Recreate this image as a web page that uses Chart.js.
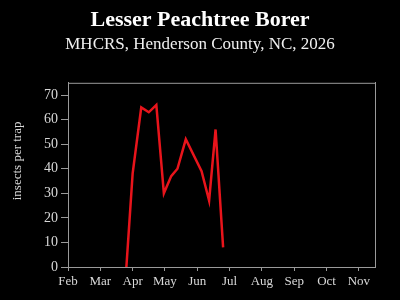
<!DOCTYPE html>
<html lang="en">
<head>
    <meta charset="UTF-8">
    <title>Lesser Peachtree Borer</title>
    <script src="https://cdn.jsdelivr.net/npm/chart.js"></script>
    <style>
        html, body { margin: 0; padding: 0; background: #000; }
        #wrap { width: 400px; height: 300px; }
    </style>
</head>
<body>
<div id="wrap"><canvas id="borerChart" width="400" height="300"></canvas></div>
<script>
    // trap dates (MM-DD) and counts
    const trapDates = ["03-26", "04-01", "04-09", "04-16", "04-23", "04-30", "05-07", "05-13", "05-21", "06-05", "06-12", "06-18", "06-25"];
    const trapCounts = [0, 38, 65, 63, 66, 30, 37, 40, 52, 39, 27, 56, 8];
    const monthLabels = ["Feb", "Mar", "Apr", "May", "Jun", "Jul", "Aug", "Sep", "Oct", "Nov"];
    const yTicks = [0, 10, 20, 30, 40, 50, 60, 70];
    const yTitle = "insects per trap";

    const daysIn = [31, 28, 31, 30, 31, 30, 31, 31, 30, 31, 30, 31];
    // month position on axis: Feb 1 = 0, Mar 1 = 1, ...
    function monthPos(s) {
        const m = parseInt(s.slice(0, 2), 10);
        const d = parseInt(s.slice(3), 10);
        return (m - 2) + (d - 1) / daysIn[m - 1];
    }
    const points = trapDates.map((d, i) => ({ x: monthPos(d), y: trapCounts[i] }));

    const labelColor = "#d8d8d8";
    const axisColor = "#9a9a9a";
    const serif = "'Liberation Serif', 'DejaVu Serif', serif";

    // top edge of the box + y axis label (sits a bit above centre in the original)
    const frame = {
        id: "frame",
        afterDraw(chart) {
            const a = chart.chartArea, ctx = chart.ctx;
            ctx.save();
            ctx.strokeStyle = axisColor;
            ctx.lineWidth = 1;
            ctx.beginPath();
            ctx.moveTo(a.left, a.top + 0.5);
            ctx.lineTo(a.right, a.top + 0.5);
            ctx.stroke();
            ctx.translate(18, (a.top + a.bottom) / 2 - 14);
            ctx.rotate(-Math.PI / 2);
            ctx.fillStyle = labelColor;
            ctx.font = "13px " + serif;
            ctx.textAlign = "center";
            ctx.textBaseline = "middle";
            ctx.fillText(yTitle, 0, 0);
            ctx.restore();
        }
    };

    new Chart(document.getElementById("borerChart").getContext("2d"), {
        type: "line",
        data: {
            datasets: [{
                data: points,
                borderColor: "#e8141b",
                borderWidth: 2.5,
                pointRadius: 0,
                tension: 0,
                fill: false
            }]
        },
        options: {
            responsive: false,
            animation: false,
            plugins: {
                legend: { display: false },
                tooltip: { enabled: false },
                title: {
                    display: true,
                    text: "Lesser Peachtree Borer",
                    color: "#ffffff",
                    font: { family: serif, size: 22, weight: "bold" },
                    padding: { top: 7, bottom: 1 }
                },
                subtitle: {
                    display: true,
                    text: "MHCRS, Henderson County, NC, 2026",
                    color: "#f0f0f0",
                    font: { family: serif, size: 17 },
                    padding: { top: 0, bottom: 28 }
                }
            },
            scales: {
                x: {
                    type: "linear",
                    min: 0,
                    max: 9.5,
                    afterBuildTicks: s => { s.ticks = monthLabels.map((_, i) => ({ value: i })); },
                    afterFit: s => { s.height = 33; },
                    ticks: {
                        color: labelColor,
                        font: { family: serif, size: 13 },
                        padding: 3,
                        maxRotation: 0,
                        autoSkip: false,
                        callback: v => monthLabels[v]
                    },
                    grid: { drawOnChartArea: false, color: axisColor, tickLength: 4 },
                    border: { color: axisColor }
                },
                y: {
                    min: 0,
                    max: 75,
                    afterBuildTicks: s => { s.ticks = yTicks.map(v => ({ value: v })); },
                    afterFit: s => { s.width = 68; },
                    ticks: {
                        color: labelColor,
                        font: { family: serif, size: 14 },
                        padding: 3
                    },
                    grid: { drawOnChartArea: false, color: axisColor, tickLength: 7 },
                    border: { color: axisColor }
                },
                // empty right axis: keeps the right margin and draws the right edge
                y2: {
                    position: "right",
                    min: 0,
                    max: 75,
                    afterFit: s => { s.width = 25; },
                    ticks: { display: false },
                    grid: { drawOnChartArea: false, drawTicks: false },
                    border: { color: axisColor }
                }
            }
        },
        plugins: [frame]
    });
</script>
</body>
</html>
